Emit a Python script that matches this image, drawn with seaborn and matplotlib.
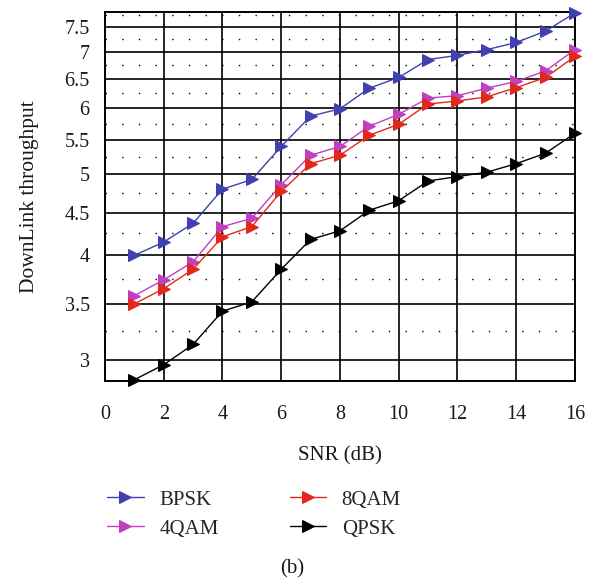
import numpy as np
import pandas as pd
import matplotlib
matplotlib.use("Agg")
import matplotlib.pyplot as plt
import seaborn as sns
from matplotlib.ticker import FixedLocator, NullFormatter, FixedFormatter

snr = list(range(1, 17))
bpsk = [4.00, 4.15, 4.37, 4.80, 4.93, 5.40, 5.87, 5.99, 6.34, 6.53, 6.86, 6.94, 7.05, 7.19, 7.42, 7.80]
qam4 = [3.58, 3.74, 3.93, 4.33, 4.43, 4.86, 5.27, 5.40, 5.71, 5.90, 6.17, 6.21, 6.34, 6.46, 6.65, 7.05]
qam8 = [3.50, 3.65, 3.85, 4.21, 4.33, 4.77, 5.15, 5.27, 5.57, 5.74, 6.07, 6.12, 6.19, 6.35, 6.53, 6.92]
qpsk = [2.84, 2.96, 3.13, 3.43, 3.52, 3.85, 4.18, 4.28, 4.53, 4.65, 4.91, 4.97, 5.03, 5.15, 5.30, 5.60]

series_names = ["BPSK", "4QAM", "8QAM", "QPSK"]
series_vals = [bpsk, qam4, qam8, qpsk]
colors = ["#4040b0", "#c040c0", "#e2281c", "#000000"]

y_ticks = [3, 3.5, 4, 4.5, 5, 5.5, 6, 6.5, 7, 7.5]
y_tick_labels = ["3", "3.5", "4", "4.5", "5", "5.5", "6", "6.5", "7", "7.5"]
y_minor = [2.75, 3.25, 3.75, 4.25, 4.75, 5.25, 5.75, 6.25, 6.75, 7.25, 7.75]
x_ticks = [0, 2, 4, 6, 8, 10, 12, 14, 16]

sns.set_theme(style="white")
plt.rcParams['font.family'] = ['Liberation Serif', 'DejaVu Serif']

fig = plt.figure(figsize=(5.93, 5.88), dpi=100)
ax = fig.add_axes([0.177, 0.352, 0.7926, 0.6276])

df = pd.DataFrame({
    "SNR": snr * len(series_names),
    "val": sum(series_vals, []),
    "mod": sum([[n] * len(snr) for n in series_names], []),
})

for name, col in zip(series_names, colors):
    sub = df[df["mod"] == name]
    sns.lineplot(data=sub, x="SNR", y="val", ax=ax, color=col, marker=">",
                 markersize=8, markeredgecolor=col, markerfacecolor=col,
                 linewidth=1.0, label=name, clip_on=False, zorder=3)

ax.set_yscale("log")
ax.set_xlim(0, 16)
ax.set_ylim(2.83, 7.82)
ax.yaxis.set_major_locator(FixedLocator(y_ticks))
ax.yaxis.set_major_formatter(FixedFormatter(y_tick_labels))
ax.yaxis.set_minor_locator(FixedLocator(y_minor))
ax.yaxis.set_minor_formatter(NullFormatter())
ax.set_xticks(x_ticks)
ax.set_xticklabels([str(v) for v in x_ticks])

ax.grid(which="major", axis="both", color="black", linewidth=1.2, linestyle="-")
ax.grid(which="minor", axis="y", color="black", linewidth=1.0, linestyle=(0, (1, 11)))
ax.set_axisbelow(True)
for s in ax.spines.values():
    s.set_color("black")
    s.set_linewidth(1.4)

ax.tick_params(axis="both", which="both", length=0, labelsize=14.5, colors="#1a1a1a")
ax.tick_params(axis="y", pad=11)
ax.tick_params(axis="x", pad=17)

ax.set_xlabel("SNR (dB)", fontsize=15, labelpad=16, color="#1a1a1a")
ax.set_ylabel("DownLink throughput", fontsize=15.5, labelpad=18, color="#1a1a1a")

handles, labels = ax.get_legend_handles_labels()
ax.legend(handles, labels, loc="upper left", bbox_to_anchor=(-0.035, -0.245), ncol=2,
          frameon=False, fontsize=15, handlelength=1.75, columnspacing=3.4,
          handletextpad=0.75, labelspacing=0.45)

fig.text(0.492, 0.033, "(b)", ha="center", va="center", fontsize=15, color="#1a1a1a")

fig.savefig("out.png", dpi=100)
